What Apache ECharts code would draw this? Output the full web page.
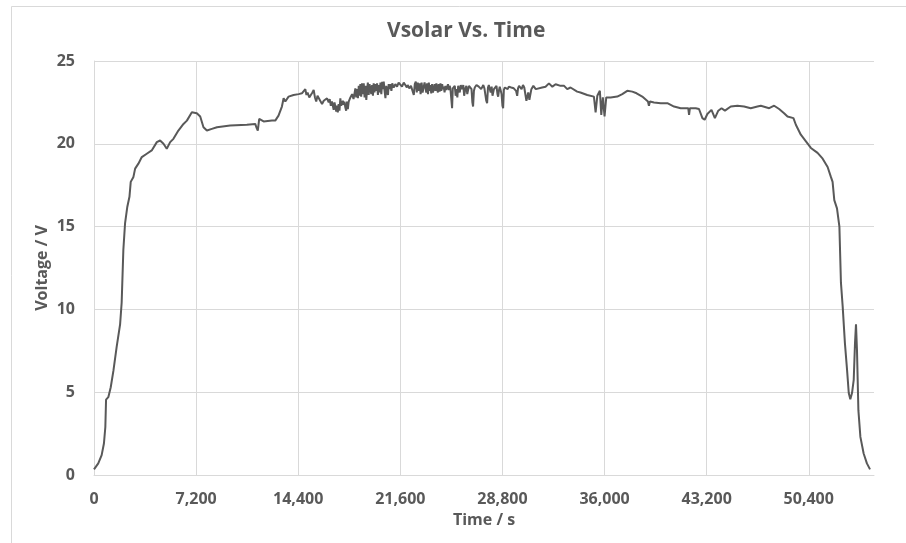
<!DOCTYPE html>
<html>
<head>
<meta charset="utf-8">
<script src="https://cdn.jsdelivr.net/npm/echarts@6/dist/echarts.min.js"></script>
<style>
html,body{margin:0;padding:0;background:#fff;}
#chart{width:906px;height:543px;}
</style>
</head>
<body>
<div id="chart"></div>
<script>
// [time (s), solar voltage (V)] readings
var morningRise = [
  [0,0.34],[300,0.7],[540,1.2],[700,1.9],[800,2.9],[850,4.55],[1010,4.7],[1180,5.3],[1370,6.3],[1600,7.75],
  [1840,9.1],[1950,10.4],[2070,13.6],[2190,15.2],[2350,16.2],[2500,16.8],[2590,17.7],[2780,18.0],[2900,18.5],[3130,18.8],
  [3370,19.2],[3720,19.4],[3850,19.3],[4070,19.6],[4430,20.1],[4660,20.2],[4900,20.0],[5130,19.7],[5370,20.1],[5600,20.3],
  [5950,20.8],[6310,21.2],[6550,21.4],[6900,21.9],[7250,21.85],[7490,21.65],[7720,21.0],[7960,20.8],[8310,20.9],[8670,21.0],
  [9600,21.1],[10780,21.15],[11370,21.2],[11450,21.0],[11550,20.8],[11650,21.5],[11720,21.4],[11960,21.35],[12550,21.4],[12780,21.4],
  [13010,21.7],[13250,22.25],[13370,22.75],[13490,22.55],[13720,22.85],[13840,22.75],[14070,22.95]
];
var noisyPlateau = [
  [14430,23.0],[14550,22.9],[14660,23.05],[14780,23.1],[14900,23.3],[14980,22.95],[15060,23.1],[15180,22.8],[15300,22.75],[15400,23.1],
  [15490,23.25],[15580,22.8],[15670,22.55],[15760,22.9],[15840,22.85],[15950,22.6],[16080,22.4],[16200,22.6],[16300,22.5],[16430,22.75],
  [16550,22.5],[16620,22.7],[16700,22.3],[16780,22.55],[16900,22.05],[16960,22.5],[17020,22.4],[17080,21.95],[17130,22.3],[17190,21.9],
  [17250,22.4],[17310,22.0],[17370,22.75],[17430,22.3],[17490,22.4],[17550,22.6],[17600,22.35],[17660,22.55],[17720,22.2],[17780,22.0],
  [17840,22.55],[17900,22.1],[17960,22.55],[18080,22.8],[18200,23.0],[18300,22.7],[18430,23.35],[18490,22.8],[18550,23.3],[18610,22.75],
  [18670,23.5],[18730,22.9],[18780,23.6],[18840,22.85],[18900,23.65],[18960,23.0],[19020,23.65],[19080,22.8],[19140,23.5],[19200,22.65],
  [19250,23.2],[19310,23.7],[19370,22.95],[19430,23.6],[19490,23.7],[19550,23.0],[19610,23.55],[19670,22.9],[19720,23.65],[19780,23.1],
  [19840,23.6],[19900,23.2],[19960,23.65],[20020,22.95],[20080,23.55],[20140,23.1],[20200,23.7],[20260,23.0],[20320,23.75],[20380,23.3],
  [20430,23.75],[20490,23.2],[20550,22.75],[20610,23.5],[20670,23.1],[20730,22.95],[20780,23.6],[20850,23.3],[20900,23.6],[20970,23.2],
  [21030,23.65],[21130,23.4],[21250,23.6],[21370,23.45],[21480,23.7],[21600,23.65],[21720,23.45],[21840,23.7],[21950,23.65],[22060,23.4],
  [22120,23.55],[22230,23.35],[22350,23.5],[22450,23.45],[22550,22.95],[22620,23.6],[22690,23.75],[22760,23.1],[22830,23.7],[22900,23.2],
  [22960,23.65],[23030,23.0],[23100,23.7],[23170,23.1],[23250,23.0],[23310,23.7],[23370,23.6],[23430,23.1],[23490,23.65],[23550,23.0],
  [23610,23.7],[23670,23.2],[23720,23.55],[23780,23.05],[23840,23.6],[23900,23.1],[23960,23.05],[24020,23.6],[24080,23.2],[24140,23.65],
  [24190,23.55],[24250,23.1],[24310,23.6],[24370,23.15],[24430,23.65],[24490,23.2],[24550,23.6],[24610,23.3],[24660,23.45],[24720,23.1],
  [24780,23.5],[24840,23.25],[24900,23.35],[24960,23.6],[25020,23.25],[25080,23.5],[25130,23.35],[25200,23.4],[25250,22.15],[25300,23.35],
  [25370,23.3],[25440,23.5],[25500,22.9],[25550,23.3],[25620,22.8],[25680,23.5],[25720,23.5],[25790,23.1],[25860,23.55],[25960,23.3],
  [26040,23.55],[26100,22.9],[26190,23.35],[26260,23.5],[26320,23.0],[26370,22.9],[26440,23.5],[26500,23.4],[26550,23.5],[26620,23.3],
  [26680,22.5],[26730,22.25],[26790,23.2],[26850,23.4],[26900,23.3],[26970,23.55],[27050,23.6],[27130,23.45],[27200,23.5],[27300,23.3],
  [27370,23.4],[27450,23.55],[27530,23.35],[27600,23.35],[27660,22.6],[27720,22.45],[27780,23.4],[27840,23.55],[27900,23.45],[27970,23.1],
  [28040,23.45],[28100,22.9],[28140,22.9],[28200,23.3],[28250,23.4],[28310,23.35],[28380,23.5],[28450,23.0],[28500,22.85],[28550,23.2],
  [28610,23.45],[28670,23.25],[28740,23.0],[28800,22.3],[28850,22.15],[28900,23.25],[28970,23.4],[29030,23.35],[29100,23.5],[29170,23.3],
  [29250,23.45],[29330,23.55],[29420,23.4],[29500,23.5],[29600,23.35],[29680,23.45],[29760,23.2],[29840,22.9],[29900,23.35],[29970,23.5],
  [30070,23.45],[30150,23.3],[30250,23.55],[30340,23.4],[30430,23.45],[30490,22.6],[30550,22.55],[30620,23.1],[30700,22.65],[30780,22.65],
  [30840,23.3],[30900,23.35],[30980,23.5],[31050,23.4],[31150,23.3],[31250,23.4]
];
var lateDay = [
  [31600,23.4],[31840,23.45],[32080,23.65],[32320,23.45],[32550,23.6],[32900,23.5],[33150,23.5],[33370,23.3],[33600,23.4],[34070,23.15],
  [34300,23.1],[34780,22.95],[35250,22.85],[35370,21.9],[35490,22.9],[35670,23.2],[35770,21.75],[35880,22.8],[36000,21.65],[36120,22.8],
  [36430,22.8],[36900,22.85],[37250,23.0],[37600,23.2],[37960,23.15],[38260,23.05],[38660,22.85],[39060,22.55],[39130,22.3],[39200,22.55],
  [39490,22.5],[39960,22.45],[40430,22.45],[40900,22.25],[41370,22.15],[41900,22.15],[41960,21.75],[42020,22.15],[42430,22.15],[42660,22.1],
  [42900,21.55],[43060,21.45],[43250,21.8],[43540,22.05],[43780,21.55],[44020,22.0],[44250,22.15],[44490,22.0],[44900,22.25],[45370,22.3],
  [45840,22.25],[46310,22.15],[46780,22.25],[47020,22.3],[47610,22.15],[47960,22.3],[48310,22.1],[48660,21.85],[48900,21.65],[49320,21.55]
];
var eveningFall = [
  [49490,21.15],[49840,20.55],[50200,20.15],[50550,19.75],[51020,19.45],[51380,19.1],[51730,18.6],[51960,18.0],[52080,17.7],[52200,16.6],
  [52390,16.1],[52560,15.0],[52670,11.6],[52790,10.2],[52950,7.95],[53100,6.35],[53220,4.95],[53330,4.57],[53450,4.95],[53570,5.75],
  [53660,7.95],[53730,9.1],[53800,7.55],[53900,3.9],[54040,2.3],[54270,1.3],[54500,0.7],[54720,0.34]
];
var titleText = 'Vsolar Vs. Time';
var xAxisName = 'Time / s';
var yAxisName = 'Voltage / V';

var seriesData = morningRise.concat(noisyPlateau, lateDay, eveningFall);

var textColor = '#595959';
var gridColor = '#d9d9d9';
var fontFam = '"Open Sans", "Liberation Sans", sans-serif';

var chart = echarts.init(document.getElementById('chart'), null, {renderer: 'canvas'});
chart.setOption({
  backgroundColor: '#ffffff',
  animation: false,
  graphic: [{
    type: 'rect',
    shape: {x: 11.5, y: 6.5, width: 1000, height: 700},
    style: {fill: 'none', stroke: gridColor, lineWidth: 1},
    silent: true
  }],
  title: {
    text: titleText,
    left: 382,
    top: 16,
    textStyle: {color: textColor, fontSize: 21, fontWeight: 'bold', fontFamily: fontFam}
  },
  grid: {left: 94, right: 32, top: 61, bottom: 68, containLabel: false, outerBoundsMode: 'none'},
  xAxis: {
    type: 'value',
    min: 0,
    max: 55000,
    interval: 7200,
    name: xAxisName,
    nameLocation: 'middle',
    nameGap: 37,
    nameMoveOverlap: false,
    nameTextStyle: {color: textColor, fontSize: 16, fontWeight: 'bold', fontFamily: fontFam},
    axisLine: {show: true, lineStyle: {color: gridColor, width: 1}},
    axisTick: {show: false},
    axisLabel: {
      color: textColor, fontSize: 16, fontWeight: 'bold', fontFamily: fontFam,
      margin: 16, showMaxLabel: false,
      formatter: function (v) { return v.toLocaleString('en-US'); }
    },
    splitLine: {show: true, showMaxLine: false, lineStyle: {color: gridColor, width: 1}}
  },
  yAxis: {
    type: 'value',
    min: 0,
    max: 25,
    interval: 5,
    name: yAxisName,
    nameLocation: 'middle',
    nameGap: 44,
    nameMoveOverlap: false,
    nameTextStyle: {color: textColor, fontSize: 16, fontWeight: 'bold', fontFamily: fontFam},
    axisLine: {show: true, lineStyle: {color: gridColor, width: 1}},
    axisTick: {show: false},
    axisLabel: {color: textColor, fontSize: 16, fontWeight: 'bold', fontFamily: fontFam, margin: 19},
    splitLine: {show: true, lineStyle: {color: gridColor, width: 1}}
  },
  series: [{
    type: 'line',
    data: seriesData,
    showSymbol: false,
    smooth: false,
    lineStyle: {color: '#595959', width: 2},
    itemStyle: {color: '#595959'}
  }]
});
</script>
</body>
</html>
